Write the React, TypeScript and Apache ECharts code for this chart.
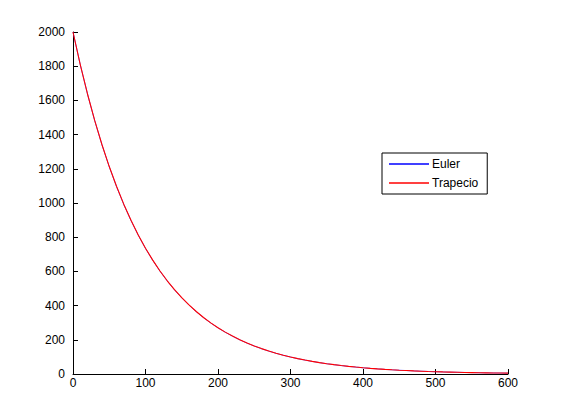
import React, { useEffect, useRef } from "react";
import * as echarts from "echarts";

const tValues = [0, 10, 20, 30, 40, 50, 60, 70, 80, 90, 100, 110, 120, 130, 140, 150, 160, 170, 180, 190, 200, 210, 220, 230, 240, 250, 260, 270, 280, 290, 300, 310, 320, 330, 340, 350, 360, 370, 380, 390, 400, 410, 420, 430, 440, 450, 460, 470, 480, 490, 500, 510, 520, 530, 540, 550, 560, 570, 580, 590, 600];

const eulerValues = [2000, 1809.3, 1636.8, 1480.7, 1339.5, 1211.9, 1096.3, 991.8, 897.2, 811.6, 734.3, 664.3, 601.0, 543.7, 491.8, 445.0, 402.6, 364.3, 329.6, 298.2, 269.8, 244.1, 220.9, 199.8, 180.8, 163.6, 148.0, 133.9, 121.1, 109.6, 99.2, 89.7, 81.2, 73.5, 66.4, 60.1, 54.4, 49.2, 44.5, 40.3, 36.4, 33.0, 29.9, 27.0, 24.5, 22.1, 20.0, 18.1, 16.4, 14.8, 13.4, 12.1, 10.9, 9.9, 9.0, 8.1, 7.3, 6.6, 6.0, 5.4, 4.9];

const trapecioValues = [2000, 1809.7, 1637.5, 1481.6, 1340.6, 1213.1, 1097.6, 993.2, 898.7, 813.1, 735.8, 665.8, 602.4, 545.1, 493.2, 446.3, 403.8, 365.4, 330.6, 299.1, 270.7, 244.9, 221.6, 200.5, 181.4, 164.2, 148.5, 134.4, 121.6, 110.0, 99.6, 90.1, 81.5, 73.8, 66.7, 60.4, 54.6, 49.4, 44.7, 40.5, 36.6, 33.1, 30.0, 27.1, 24.6, 22.2, 20.1, 18.2, 16.5, 14.9, 13.5, 12.2, 11.0, 10.0, 9.0, 8.2, 7.4, 6.7, 6.0, 5.5, 5.0];

const seriesNames = ["Euler", "Trapecio"];

export default function App() {
  const ref = useRef<HTMLDivElement>(null);
  useEffect(() => {
    if (!ref.current) return;
    const chart = echarts.init(ref.current, null, { renderer: "svg" });
    const font = "Arial, 'Liberation Sans', sans-serif";
    const axisCommon = {
      axisLine: { show: true, lineStyle: { color: "#000", width: 1 } },
      axisTick: { show: true, inside: true, length: 5, lineStyle: { color: "#000" } },
      splitLine: { show: false },
      axisLabel: { color: "#000", fontSize: 12, fontFamily: font, formatter: (v: number) => String(v) },
    };
    chart.setOption({
      animation: false,
      backgroundColor: "#fff",
      grid: { left: 73, right: 53, top: 32, bottom: 46, containLabel: false },
      legend: {
        orient: "vertical",
        left: 382,
        top: 153,
        backgroundColor: "#fff",
        borderColor: "#000",
        borderWidth: 1,
        borderRadius: 0,
        padding: [5, 9, 5, 7],
        itemGap: 7,
        itemWidth: 40,
        itemHeight: 1.5,
        icon: "rect",
        textStyle: { color: "#000", fontSize: 12, fontFamily: font, padding: [0, 0, 0, -2] },
        data: seriesNames,
      },
      xAxis: {
        type: "value",
        min: 0,
        max: 600,
        interval: 100,
        ...axisCommon,
        axisLabel: { ...axisCommon.axisLabel, margin: 3 },
      },
      yAxis: {
        type: "value",
        min: 0,
        max: 2000,
        interval: 200,
        ...axisCommon,
        axisLabel: { ...axisCommon.axisLabel, margin: 8 },
      },
      series: [
        {
          name: seriesNames[0],
          type: "line",
          showSymbol: false,
          data: tValues.map((t, i) => [t, eulerValues[i]]),
          lineStyle: { color: "#0000ff", width: 0.6 },
          itemStyle: { color: "#0000ff" },
        },
        {
          name: seriesNames[1],
          type: "line",
          showSymbol: false,
          data: tValues.map((t, i) => [t, trapecioValues[i]]),
          lineStyle: { color: "#ff0000", width: 1.1 },
          itemStyle: { color: "#ff0000" },
        },
      ],
    });
    return () => chart.dispose();
  }, []);
  return <div ref={ref} style={{ width: 561, height: 420, position: "fixed", left: 0, top: 0 }} />;
}
